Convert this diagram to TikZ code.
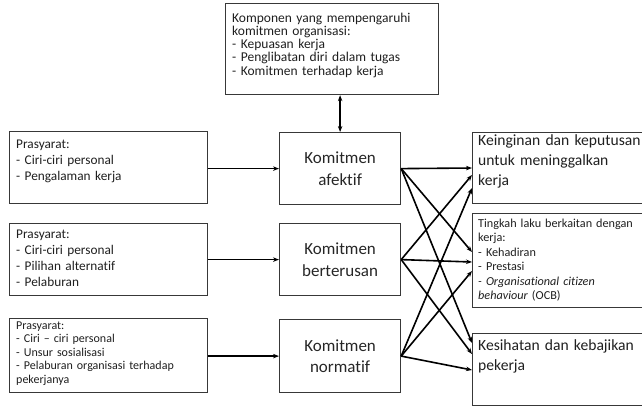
\documentclass[tikz,border=0pt]{standalone}
\usepackage{fontspec}
\setmainfont{Carlito}[RawFeature={-liga;-clig;-dlig}]
\usetikzlibrary{arrows.meta,calc}
\begin{document}
\begin{tikzpicture}[x=1pt,y=-1pt,
  box/.style={draw=black!78, line width=1.2pt, anchor=north west, inner sep=0pt},
  txt/.style={anchor=base west, inner sep=0pt, text width=#1, align=left, text=black!88},
  cbox/.style={box, minimum width=121pt, align=center, text=black!85,
    font={\fontsize{17}{21.7}\selectfont\lineskiplimit=-30pt}},
  conn/.style={line width=1.6pt, -{Stealth[length=6pt,width=4.5pt]}},
  dconn/.style={line width=1.6pt, {Stealth[length=6pt,width=4.5pt]}-{Stealth[length=6pt,width=4.5pt]}},
  fA/.style={font={\fontsize{13.5}{13.3}\selectfont\lineskiplimit=-30pt}},
  fL/.style={font={\fontsize{13.3}{16}\selectfont\lineskiplimit=-30pt}},
  fL3/.style={font={\fontsize{12}{13.6}\selectfont\lineskiplimit=-30pt}},
  fR/.style={font={\fontsize{15.6}{20}\selectfont\lineskiplimit=-30pt}},
  fR2/.style={font={\fontsize{12.2}{14.5}\selectfont\lineskiplimit=-30pt}}
]
\useasboundingbox (0,0) rectangle (642,407);
\clip (0,0) rectangle (642,407);

% top box
\node[box, minimum width=213pt, minimum height=91pt] (top) at (225,3) {};
\node[txt=205pt, fA] (topT) at (232,22) {Komponen yang mempengaruhi\\komitmen organisasi:\\- Kepuasan kerja\\- Penglibatan diri dalam tugas\\- Komitmen terhadap kerja};

% left boxes
\node[box, minimum width=198pt, minimum height=72pt] (lb1) at (9,131) {};
\node[txt=190pt, fL] (lb1T) at (16,148) {Prasyarat:\\- Ciri-ciri personal\\- Pengalaman kerja};
\node[box, minimum width=198pt, minimum height=72pt] (lb2) at (9,223) {};
\node[txt=190pt, fL] (lb2T) at (16,238) {Prasyarat:\\- Ciri-ciri personal\\- Pilihan alternatif\\- Pelaburan};
\node[box, minimum width=198pt, minimum height=74pt] (lb3) at (9,318) {};
\node[txt=190pt, fL3] (lb3T) at (16,329) {Prasyarat:\\- Ciri -- ciri personal\\- Unsur sosialisasi\\- Pelaburan organisasi terhadap\\pekerjanya};

% centre boxes
\node[cbox, minimum height=72pt] (ca) at (279,132) {Komitmen\\afektif};
\node[cbox, minimum height=72pt] (cb) at (279,223) {Komitmen\\berterusan};
\node[cbox, minimum height=73pt] (cn) at (279,319) {Komitmen\\normatif};

% right boxes
\node[box, minimum width=200pt, minimum height=71pt] (rb1) at (472,132) {};
\node[txt=190pt, fR] (rb1T) at (478,145) {Keinginan dan keputusan\\untuk meninggalkan\\kerja};
\node[box, minimum width=200pt, minimum height=94pt] (rb2) at (472,213) {};
\node[txt=190pt, fR2] (rb2T) at (478,227) {Tingkah laku berkaitan dengan\\kerja:\\- Kehadiran\\- Prestasi\\\textit{- Organisational citizen}\\\textit{behaviour} (OCB)};
\node[box, minimum width=200pt, minimum height=72pt] (rb3) at (472,333) {};
\node[txt=190pt, fR] (rb3T) at (478,350) {Kesihatan dan kebajikan\\pekerja};

% connectors
\draw[dconn] (ca.north |- top.south) -- (ca.north);
\draw[conn] (lb1.east |- ca.west) -- (ca.west);
\draw[conn] (lb2.east |- cb.west) -- (cb.west);
\draw[conn] (lb3.east |- cn.west) -- (cn.west);

\draw[conn] (ca.east) -- ([yshift=-36pt]rb1.north west);
\draw[conn] (ca.east) -- ([yshift=-39pt]rb2.north west);
\draw[conn] (ca.east) -- ([yshift=-10pt]rb3.north west);
\draw[conn] (cb.east) -- ([yshift=-43pt]rb1.north west);
\draw[conn] (cb.east) -- ([yshift=-49pt]rb2.north west);
\draw[conn] (cb.east) -- ([yshift=-21pt]rb3.north west);
\draw[conn] (cn.east) -- ([yshift=-56pt]rb1.north west);
\draw[conn] (cn.east) -- ([yshift=-58pt]rb2.north west);
\draw[conn] (cn.east) -- ([yshift=-37pt]rb3.north west);
\end{tikzpicture}
\end{document}
